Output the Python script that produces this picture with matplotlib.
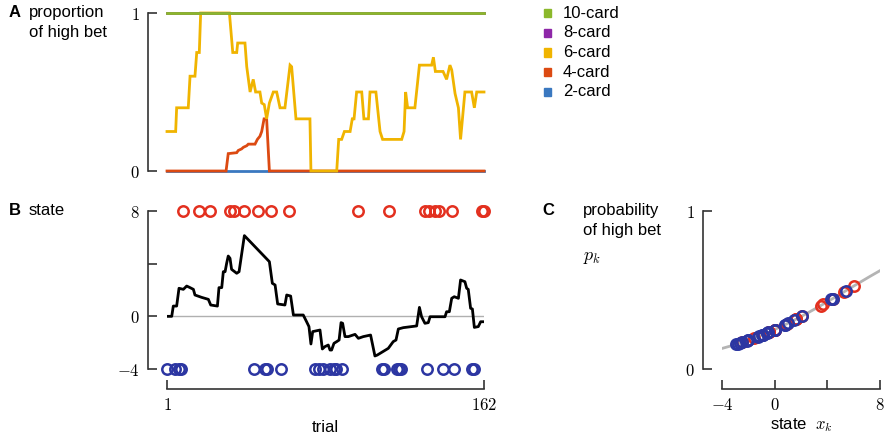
import numpy as np
import matplotlib
matplotlib.use('Agg')
import matplotlib.pyplot as plt
from matplotlib.patches import Rectangle

plt.rcParams['font.family'] = ['Liberation Sans', 'DejaVu Sans']
plt.rcParams['mathtext.fontset'] = 'cm'

# panel A: proportion of high bet per card (trial, value) vertices
card_names = ['10-card', '8-card', '6-card', '4-card', '2-card']
card_colors = ['#8bb82b', '#8e27a8', '#f0b400', '#dc4a12', '#3a78c0']

t_10 = [1, 162]
v_10 = [1, 1]
t_8 = [1, 162]
v_8 = [1, 1]
t_6 = [1, 5.4, 5.9, 11.8, 12.7, 15.2, 16.1, 17.4, 18.1, 32.7, 34.4, 36.4, 36.9, 40.6,
       41.5, 43.2, 44.8, 46, 48.2, 49.1, 50.4, 51.6, 53, 55, 56.7, 58.4, 60.9, 63.5,
       64.3, 66.5, 73.6, 74.1, 87.2, 88.2, 89.7, 91.1, 94, 95.1, 96, 97.3, 99.9, 101,
       103.3, 104.1, 107.1, 109.2, 110.5, 120.2, 121.4, 122.2, 123.2, 126.9, 129.2,
       135.4, 136.3, 137.3, 141.2, 143, 144.7, 145.6, 147.3, 149, 150.1, 152.3, 155.7,
       157.1, 158.3, 162]
v_6 = [0.25, 0.25, 0.40, 0.40, 0.60, 0.60, 0.75, 0.75, 1.0, 1.0, 0.75, 0.75, 0.81, 0.81,
       0.66, 0.50, 0.58, 0.50, 0.50, 0.43, 0.42, 0.33, 0.43, 0.50, 0.50, 0.40, 0.40, 0.67,
       0.66, 0.33, 0.33, 0, 0, 0.20, 0.20, 0.25, 0.25, 0.33, 0.33, 0.50, 0.50, 0.33,
       0.33, 0.50, 0.50, 0.25, 0.20, 0.20, 0.25, 0.50, 0.40, 0.40, 0.67,
       0.67, 0.72, 0.63, 0.63, 0.58, 0.67, 0.64, 0.49, 0.40, 0.20, 0.50, 0.50,
       0.40, 0.50, 0.50]
t_4 = [1, 31, 32.1, 36.4, 37.2, 38.9, 39.8, 41.5, 42.3, 45.7, 46.9, 48.2, 49.1, 50.3, 51.6, 53, 162]
v_4 = [0, 0, 0.11, 0.116, 0.13, 0.14, 0.15, 0.16, 0.17, 0.17, 0.20, 0.22, 0.25, 0.33, 0.33, 0, 0]
t_2 = [1, 162]
v_2 = [0, 0]

# panel B: state trace vertices
state_t = [1, 3.4, 4.2, 5.9, 7.1, 9.3, 11.0, 12.7, 14.4, 15.2, 18.6, 22.0, 23.2, 26.6, 27.4,
           28.8, 29.6, 30.5, 31.3, 32.1, 33.0, 33.8, 36.4, 37.6, 40.3, 53.0, 54.5, 55.9,
           57.2, 60.9, 61.8, 63.8, 65.2, 70.2, 71.9, 73.1, 74.1, 75.0, 78.7, 79.9, 81.2,
           82.9, 83.8, 84.6, 85.8, 87.2, 88.4, 89.4, 90.2, 91.4, 93.1, 96.5, 98.2, 100.7,
           104.4, 106.6, 107.8, 113.4, 115.9, 117.3, 118.5, 121.0, 127.8, 129.2, 130.3,
           132.0, 133.7, 134.6, 142.2, 143.0, 144.4, 145.6, 146.9, 149.0, 150.1, 152.3,
           153.2, 154.0, 155.2, 156.1, 157.1, 159.1, 160.3, 162]
state_v = [0, 0, 0.78, 0.78, 2.13, 2.05, 2.30, 2.18, 2.05, 1.62, 1.44, 1.29, 0.86, 0.78, 2.18,
           2.18, 3.39, 3.39, 4.03, 4.58, 4.41, 3.57, 3.27, 3.39, 6.13, 4.15, 2.51, 2.38,
           0.94, 0.86, 1.62, 1.54, 0.10, 0.10, -0.41, -0.78, -2.10, -1.16, -1.04, -2.48, -2.30,
           -2.18, -2.56, -2.56, -2.05, -1.92, -1.80, -0.48, -0.53, -1.54, -1.54, -1.37, -1.67, -1.54,
           -1.42, -3.01, -2.94, -2.43, -1.92, -1.80, -0.96, -0.86, -0.73, 0.68, -0.03,
           -0.53, -0.48, -0.03, -0.03, 0.35, 0.35, 1.37, 1.49, 1.37, 2.76, 2.63,
           2.13, 2.05, 0.61, 0.56, -0.84, -0.78, -0.41, -0.41]

red_trials = [9, 17, 23, 33, 35, 40, 47, 54, 63, 98, 114, 132, 134, 137, 139, 146, 161, 162]
blue_trials = [1, 5, 7, 8, 45, 51, 52, 59, 76, 78, 80, 84, 86, 87, 90, 110, 111, 118, 119,
               120, 133, 141, 147, 156, 157]

# panel C: states of the red / blue trials, and fitted logistic curve
red_states = [2.1, 1.6, 0.9, 4.4, 3.7, 6.0, 5.3, 3.5, 1.6, -1.6, -2.5, -0.4, 0.0, 0.0, 0.0,
              1.6, -0.4, -0.4]
blue_states = [0, 0.8, 0.8, 2.1, 5.4, 4.4, 4.3, 1.0, -1.3, -1.2, -2.5, -2.6, -2.1, -2.0, -0.6,
               -2.9, -2.8, -2.0, -1.0, -0.9, -0.5, 0.0, 1.5, -0.6, -0.9]
b0, b1 = -1.1, 0.2

RED = '#e3301f'
BLUE = '#2c36a2'
SPINE = '#333333'
FS = 12

W, H = 893, 434
fig = plt.figure(figsize=(W / 100, H / 100), dpi=100)


def box(l, t, r, b):
    return [l / W, 1 - b / H, (r - l) / W, (b - t) / H]


def style(ax, bottom=True):
    for s in ['top', 'right']:
        ax.spines[s].set_visible(False)
    ax.spines['left'].set_position(('outward', 13.7))
    ax.spines['left'].set_color(SPINE)
    ax.spines['left'].set_linewidth(1.2)
    if bottom:
        ax.spines['bottom'].set_position(('outward', 14.4))
        ax.spines['bottom'].set_color(SPINE)
        ax.spines['bottom'].set_linewidth(1.2)
    else:
        ax.spines['bottom'].set_visible(False)
        ax.set_xticks([])
    ax.tick_params(direction='in', length=6.5, width=1.2, color=SPINE, labelsize=FS,
                   pad=6)


axA = fig.add_axes(box(167, 13, 484, 171))
axB = fig.add_axes(box(167, 211, 484, 369))
axC = fig.add_axes(box(722, 211, 880, 369))

# A
series = [(t_2, v_2, 4), (t_4, v_4, 3), (t_6, v_6, 2), (t_8, v_8, 1), (t_10, v_10, 0)]
for tt, vv, ci in series:
    axA.plot(tt, vv, color=card_colors[ci], lw=2, clip_on=False, solid_joinstyle='miter')
axA.set_xlim(1, 162)
axA.set_ylim(0, 1)
style(axA, bottom=False)
axA.set_yticks([0, 1])
axA.set_yticklabels(['$0$', '$1$'])

# B
axB.plot([1, 162], [0, 0], color='#b0b0b0', lw=1)
axB.plot(state_t, state_v, color='k', lw=2)
axB.plot(red_trials, [8] * len(red_trials), 'o', ms=7.5, mfc='none', mec=RED, mew=1.8,
         clip_on=False)
axB.plot(blue_trials, [-4] * len(blue_trials), 'o', ms=7.5, mfc='none', mec=BLUE, mew=1.8,
         clip_on=False)
axB.set_xlim(1, 162)
axB.set_ylim(-4, 8)
style(axB)
axB.set_yticks([-4, 0, 4, 8])
axB.set_yticklabels(['$-4$', '$0$', '', '$8$'])
axB.set_xticks([1, 162])
axB.set_xticklabels(['$1$', '$162$'])
axB.set_xlabel('trial', fontsize=FS, labelpad=5)

# C
xs = np.linspace(-4, 8, 200)
axC.plot(xs, 1 / (1 + np.exp(-(b0 + b1 * xs))), color='#b4b4b4', lw=2)
rs = np.array(red_states)
bs = np.array(blue_states)
axC.plot(rs, 1 / (1 + np.exp(-(b0 + b1 * rs))), 'o', ms=7.5, mfc='none', mec=RED, mew=1.8)
axC.plot(bs, 1 / (1 + np.exp(-(b0 + b1 * bs))), 'o', ms=7.5, mfc='none', mec=BLUE, mew=1.8)
axC.set_xlim(-4, 8)
axC.set_ylim(0, 1)
style(axC)
axC.set_yticks([0, 1])
axC.set_yticklabels(['$0$', '$1$'])
axC.set_xticks([-4, 0, 4, 8])
axC.set_xticklabels(['$-4$', '$0$', '', '$8$'])
axC.set_xlabel('state  $x_k$', fontsize=FS, labelpad=2)


# panel letters and titles
def ftext(x, y, s, size=FS, **kw):
    fig.text(x / W, 1 - y / H, s, va='top', ha='left', fontsize=size, linespacing=1.4, **kw)


ftext(9, 5, 'A', fontweight='bold')
ftext(29, 5, 'proportion\nof high bet')
ftext(9, 203, 'B', fontweight='bold')
ftext(29, 203, 'state')
ftext(542, 203, 'C', fontweight='bold')
ftext(583, 203, 'probability\nof high bet')
ftext(583, 249, '$p_k$', size=13)

# legend
for i, (name, col) in enumerate(zip(card_names, card_colors)):
    yc = 13.3 + i * 19.6
    fig.add_artist(Rectangle((544 / W, 1 - (yc + 4) / H), 7 / W, 8 / H,
                             transform=fig.transFigure, color=col))
    fig.text(563 / W, 1 - yc / H, name, va='center', ha='left', fontsize=FS)

fig.savefig('out.png', dpi=100)
